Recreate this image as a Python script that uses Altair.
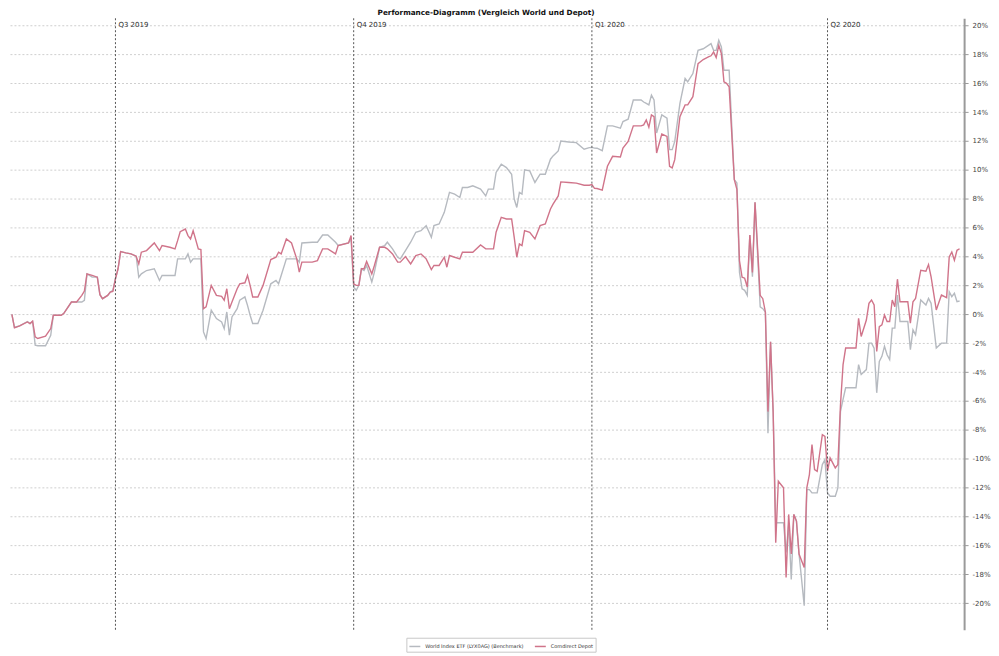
import altair as alt
import pandas as pd

base_date = "2019-07-01"

# days relative to base_date, values in percent
days = [-40, -39, -37, -34, -33, -32, -31, -30, -27, -25, -24, -21, -20, -17, -15, -13, -12, -11, -9, -7,
        -6, -5, -3, -2, -1, 0, 1, 2, 4, 6, 8, 9, 10, 12, 15, 17, 18, 21, 23, 24,
        25, 27, 28, 29, 30, 32, 33, 34, 35, 37, 39, 41, 42, 43, 44, 45, 47, 48, 50, 51,
        52, 53, 55, 57, 60, 62, 63, 64, 66, 68, 70, 71, 72, 76, 78, 80, 82, 85, 86, 90,
        91, 92, 93, 94, 95, 96, 97, 99, 100, 102, 104, 105, 107, 109, 110, 112, 114, 116, 118, 120,
        122, 123, 125, 127, 128, 129, 131, 133, 134, 136, 138, 141, 143, 144, 146, 147, 149, 151, 153, 154,
        155, 156, 157, 158, 160, 162, 164, 166, 168, 169, 171, 172, 175, 178, 181, 183, 184, 185, 186, 188,
        190, 192, 195, 196, 198, 200, 203, 204, 205, 206, 207, 208, 209, 211, 213, 214, 215, 216, 218, 220,
        221, 223, 225, 227, 229, 230, 231, 232, 233, 234, 235, 236, 237, 239, 240, 241, 242, 243, 244, 245,
        246, 247, 249, 250, 251, 252, 253, 254, 255, 256, 258, 259, 260, 261, 262, 263, 264, 266, 267, 268,
        269, 270, 271, 273, 274, 275, 276, 278, 279, 280, 281, 282, 286, 287, 288, 290, 291, 292, 293, 294,
        295, 296, 297, 298, 299, 300, 301, 302, 303, 306, 307, 308, 309, 311, 313, 314, 315, 317, 319, 321,
        322, 323, 324, 325, 326]

world = [0.0, -0.9, -0.8, -0.5, -0.64, -0.5, -2.14, -2.18, -2.18, -1.45, -0.07, -0.07, 0.05, 0.85, 0.85, 0.85, 0.97, 2.8, 2.57, 2.57,
         1.36, 1.08, 1.31, 1.54, 1.66, 2.46, 3.15, 4.34, 4.25, 4.18, 4.02, 2.57, 2.8, 3.03, 3.15, 2.34, 2.69, 2.69, 2.69, 3.84,
         3.84, 3.84, 4.18, 3.61, 3.84, 3.84, 3.84, -1.22, -1.68, 0.28, -0.3, -0.53, -0.99, 0.16, -1.45, -0.18, 0.39, 0.97, 1.2, 0.62,
         -0.07, -0.64, -0.64, 0.28, 2.11, 2.34, 2.11, 2.69, 3.84, 3.84, 3.84, 3.61, 4.94, 4.99, 4.99, 5.49, 5.49, 4.99, 4.76, 4.94,
         5.2, 1.88, 1.66, 2.0, 3.15, 3.03, 3.38, 2.23, 2.92, 4.64, 4.76, 4.99, 4.53, 3.95, 3.84, 4.41, 4.99, 5.68, 5.79, 6.14,
         5.33, 6.14, 6.25, 7.06, 7.75, 8.44, 8.32, 8.09, 8.78, 8.78, 8.9, 8.67, 8.2, 8.67, 8.67, 9.82, 10.39, 10.16, 9.7, 7.98,
         7.4, 8.44, 8.32, 10.0, 9.93, 9.13, 9.7, 9.7, 10.74, 10.97, 11.31, 12.0, 11.93, 11.89, 11.43, 11.54, 11.56, 11.51, 11.5, 11.33,
         13.05, 13.05, 12.89, 13.35, 13.51, 14.84, 14.84, 14.7, 14.61, 14.5, 15.18, 14.84, 12.55, 13.81, 13.58, 11.4, 11.4, 11.97, 14.61, 16.33,
         16.1, 16.67, 18.28, 18.39, 18.62, 18.74, 18.28, 18.28, 18.97, 18.51, 16.9, 16.9, 16.9, 9.33, 9.1, 2.9, 1.77, 1.66, 1.31, 5.49,
         2.6, 7.75, 0.51, 0.39, 0.16, -8.23, -1.91, -6.74, -14.44, -14.44, -14.44, -16.5, -14.55, -18.36, -13.86, -14.32, -16.6, -20.18, -12.14, -12.14,
         -12.37, -12.37, -12.37, -10.41, -10.07, -12.37, -12.6, -12.6, -12.02, -6.74, -5.89, -5.09, -5.09, -3.49, -4.17, -3.83, -2.0, -2.0, -2.34, -5.44,
         -3.26, -2.91, -2.22, -2.8, -3.14, -0.96, -0.96, 1.33, -0.5, -0.5, -2.45, -1.08, -1.42, 0.99, 0.64, 1.1, 0.76, -2.34, -2.0, -2.0,
         1.56, 1.22, 1.45, 0.87, 0.92]

depot = [0.0, -0.94, -0.8, -0.53, -0.64, -0.48, -1.56, -1.68, -1.52, -0.99, -0.07, -0.07, 0.05, 0.85, 0.85, 1.31, 1.61, 2.8, 2.69, 2.57,
         1.36, 1.08, 1.31, 1.54, 1.59, 2.46, 3.15, 4.34, 4.25, 4.18, 4.02, 3.49, 4.3, 4.41, 4.94, 4.41, 4.76, 4.64, 4.53, 5.1,
         5.72, 5.9, 5.45, 5.22, 5.79, 4.53, 4.48, 0.39, 0.51, 2.0, 1.31, 1.24, 0.97, 1.77, 0.39, 0.85, 1.77, 2.11, 2.18, 2.69,
         2.0, 1.2, 1.2, 2.0, 3.79, 3.95, 4.3, 4.18, 5.22, 4.94, 3.84, 2.92, 3.61, 3.61, 3.72, 4.53, 4.53, 4.18, 4.76, 4.94,
         5.45, 2.11, 2.0, 2.0, 3.15, 3.15, 3.66, 2.8, 3.38, 4.64, 4.64, 4.53, 4.18, 3.61, 3.61, 4.0, 3.49, 4.07, 4.18, 3.84,
         3.1, 3.38, 3.38, 3.95, 3.26, 4.07, 3.95, 3.84, 4.3, 4.3, 4.3, 4.8, 4.53, 4.53, 4.53, 5.68, 6.71, 6.6, 6.6, 5.33,
         3.95, 4.87, 4.76, 5.79, 5.68, 5.22, 6.14, 6.25, 7.29, 7.63, 8.2, 9.17, 9.13, 9.08, 8.94, 8.94, 8.99, 8.72, 8.71, 8.6,
         10.25, 10.94, 10.9, 11.51, 11.97, 13.05, 13.05, 13.12, 13.46, 12.96, 13.81, 13.69, 11.17, 12.48, 12.32, 10.25, 10.14, 10.71, 13.69, 14.5,
         14.5, 15.07, 17.36, 17.64, 17.82, 17.9, 18.17, 17.78, 18.62, 18.05, 16.1, 15.99, 15.76, 9.33, 8.65, 3.7, 2.57, 2.5, 1.89, 5.49,
         2.9, 7.75, 1.31, 1.08, 0.16, -6.74, -1.91, -6.74, -15.82, -11.56, -12.02, -18.23, -13.86, -16.6, -13.86, -14.32, -16.6, -17.54, -12.02, -11.1,
         -9.03, -10.76, -10.87, -8.34, -8.46, -10.87, -9.95, -10.64, -10.41, -6.28, -3.49, -2.34, -2.34, -0.28, -1.54, -0.4, 0.76, 0.99, 0.64, -2.57,
         -0.85, -0.73, -0.05, -0.5, -0.5, 0.99, 0.53, 2.43, 0.87, 0.87, -0.62, 0.87, 1.1, 3.05, 2.98, 3.44, 2.59, 0.3, 1.33, 1.15,
         3.97, 4.31, 3.74, 4.43, 4.54]

series_names = ["World Index ETF (LYX0AG) (Benchmark)", "Comdirect Depot"]
series_colors = ["#b6bac0", "#d0748a"]

quarter_dates = ["2019-07-01", "2019-10-01", "2020-01-01", "2020-04-01"]
quarter_labels = ["Q3 2019", "Q4 2019", "Q1 2020", "Q2 2020"]
y_ticks = list(range(-20, 21, 2))

dates = pd.Timestamp(base_date) + pd.to_timedelta(days, unit="D")
df = pd.concat([
    pd.DataFrame({"date": dates, "value": world, "series": series_names[0]}),
    pd.DataFrame({"date": dates, "value": depot, "series": series_names[1]}),
], ignore_index=True)

qdf = pd.DataFrame({"date": pd.to_datetime(quarter_dates), "label": quarter_labels})

x_scale = alt.Scale(domain=[alt.DateTime(year=2019, month=5, date=20, hours=12),
                            alt.DateTime(year=2020, month=5, date=23, hours=18)])
y_scale = alt.Scale(domain=[-21.85, 20.5], nice=False, zero=False)

lines = alt.Chart(df).mark_line(strokeWidth=1.4).encode(
    x=alt.X("date:T", scale=x_scale, axis=None),
    y=alt.Y("value:Q", scale=y_scale, axis=alt.Axis(
        orient="right", values=y_ticks, labelExpr="datum.value + '%'", title=None,
        grid=True, gridDash=[2, 2], gridColor="#cfcfcf", gridWidth=1,
        domainColor="#9a9a9a", domainWidth=2, tickColor="#9a9a9a", tickSize=4,
        labelFontSize=7, labelColor="#444", labelPadding=4, labelFont="DejaVu Sans")),
    color=alt.Color("series:N", scale=alt.Scale(domain=series_names, range=series_colors),
                    legend=alt.Legend(orient="none", legendX=400, legendY=622,
                                      direction="horizontal", title=None,
                                      symbolType="stroke", symbolSize=121, symbolStrokeWidth=1.5,
                                      labelFontSize=5, labelFont="DejaVu Sans", labelColor="#333",
                                      strokeColor="#c8c8c8", padding=2,
                                      columnPadding=8, labelLimit=400, labelOffset=4)),
)

rules = alt.Chart(qdf).mark_rule(strokeDash=[2, 2], color="#555", strokeWidth=1).encode(
    x=alt.X("date:T")
)

qtext = alt.Chart(qdf).mark_text(align="left", baseline="middle", dx=3, fontSize=7,
                                 font="DejaVu Sans", color="#333").encode(
    x=alt.X("date:T"),
    y=alt.value(7),
    text="label:N",
)

chart = alt.layer(lines, rules, qtext).properties(
    width=960, height=614,
    padding=0,
    title=alt.TitleParams("Performance-Diagramm (Vergleich World und Depot)", fontSize=7.3,
                          font="DejaVu Sans", fontWeight="bold", color="#111", offset=1, anchor="middle"),
).configure_view(stroke=None)

chart.save("out.html", embed_options={"renderer": "svg", "actions": False})
